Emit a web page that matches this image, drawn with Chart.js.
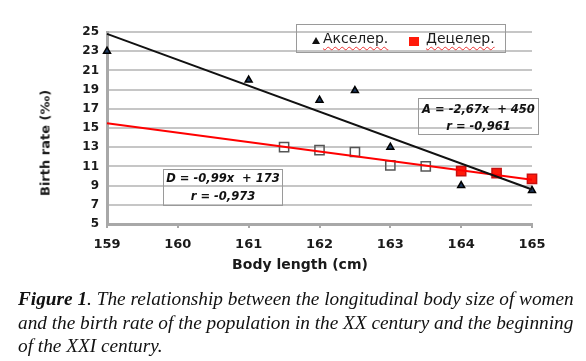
<!DOCTYPE html>
<html>
<head>
<meta charset="utf-8">
<script src="https://cdn.jsdelivr.net/npm/chart.js@4/dist/chart.umd.min.js"></script>
<style>
  body { margin: 0; background: #fff; }
  #wrap { position: relative; width: 586px; height: 361px; overflow: hidden; }
  #chart { position: absolute; left: 0; top: 0; }
  .box { position: absolute; border: 1.5px solid #9a9a9a; box-sizing: border-box; }
  .eq { position: absolute; width: 100%; text-align: center; font: italic bold 11.5px "DejaVu Sans", sans-serif; color: #111; }
  #legend { left: 296px; top: 24px; width: 210px; height: 29px; }
  .leg { position: absolute; top: 5px; font: 14px "DejaVu Sans", sans-serif; color: #1a1a1a;
         text-decoration: underline wavy #e33; text-decoration-thickness: 1px; text-underline-offset: 3px; }
  .tri { position: absolute; left: 15px; top: 12px; width: 0; height: 0;
         border-left: 4px solid transparent; border-right: 4px solid transparent; border-bottom: 7px solid #111; }
  .sq { position: absolute; left: 112px; top: 12px; width: 10px; height: 9px; background: #ff1a0a; }
  #xtitle { position: absolute; left: 0; width: 600px; top: 256px; text-align: center; font: bold 14px "DejaVu Sans", sans-serif; color: #1a1a1a; }
  #ytitle { position: absolute; left: 45px; top: 143px; transform: translate(-50%, -50%) rotate(-90deg); white-space: nowrap; font: bold 13px "DejaVu Sans", sans-serif; color: #1a1a1a; }
  #caption { position: absolute; left: 18px; top: 287px; width: 580px; font: italic 19.3px "Liberation Serif", serif; line-height: 23.5px; color: #111; white-space: nowrap; }
</style>
</head>
<body>
<div id="wrap">
  <canvas id="chart" width="586" height="280"></canvas>
  <div id="ytitle">Birth rate (‰)</div>
  <div id="xtitle">Body length (cm)</div>
  <div class="box" id="legend">
    <div class="tri"></div><span class="leg" style="left:26px">Акселер.</span>
    <div class="sq"></div><span class="leg" style="left:129px">Децелер.</span>
  </div>
  <div class="box" style="left:418px; top:98px; width:121px; height:37px;">
    <div class="eq" style="top:3px">A = -2,67x&nbsp; + 450</div>
    <div class="eq" style="top:20px">r = -0,961</div>
  </div>
  <div class="box" style="left:163px; top:169px; width:120px; height:37px;">
    <div class="eq" style="top:1px">D = -0,99x&nbsp; + 173</div>
    <div class="eq" style="top:19px">r = -0,973</div>
  </div>
  <div id="caption"><b>Figure 1</b>. The relationship between the longitudinal body size of women<br>and the birth rate of the population in the XX century and the beginning<br>of the XXI century.</div>
</div>
<script>
// body length (cm) and birth rate (‰)
const xAkseler = [159, 161, 162, 162.5, 163, 164, 165];
const yAkseler = [23, 20, 17.9, 18.9, 13, 9, 8.5];
const xDeceler = [161.5, 162, 162.5, 163, 163.5, 164, 164.5, 165];
const yDeceler = [13, 12.7, 12.5, 11.1, 11.0, 10.5, 10.3, 9.7];

// trend lines, read at both ends of the x range
const trendX = [159, 165];
const trendA = [24.8, 8.6];
const trendD = [15.5, 9.6];

const toPoints = (xs, ys) => xs.map((x, i) => ({ x: x, y: ys[i] }));

const red = "#ff1a0a";

new Chart(document.getElementById("chart").getContext("2d"), {
  type: "scatter",
  data: {
    datasets: [
      {
        label: "trendA",
        type: "line",
        data: toPoints(trendX, trendA),
        borderColor: "#111",
        borderWidth: 2,
        pointRadius: 0,
        clip: false,
      },
      {
        label: "trendD",
        type: "line",
        data: toPoints(trendX, trendD),
        borderColor: "#ff0000",
        borderWidth: 2,
        pointRadius: 0,
        clip: false,
      },
      {
        label: "Децелер.",
        data: toPoints(xDeceler, yDeceler),
        pointStyle: "rect",
        pointRadius: 6.5,
        backgroundColor: (ctx) => (ctx.raw && ctx.raw.x >= 164 ? red : "rgba(0,0,0,0)"),
        borderColor: (ctx) => (ctx.raw && ctx.raw.x >= 164 ? "#c81010" : "#555"),
        borderWidth: 1.5,
        clip: false,
      },
      {
        label: "Акселер.",
        data: toPoints(xAkseler, yAkseler),
        pointStyle: "triangle",
        pointRadius: 4,
        backgroundColor: "#1f3a5f",
        borderColor: "#000",
        borderWidth: 1.5,
        clip: false,
      },
    ],
  },
  options: {
    responsive: false,
    devicePixelRatio: 1,
    animation: false,
    layout: { padding: { left: 0, right: 54, top: 32, bottom: 0 } },
    plugins: {
      legend: { display: false },
      tooltip: { enabled: false },
    },
    scales: {
      x: {
        type: "linear",
        min: 159,
        max: 165,
        afterFit: (scale) => { scale.height = 56; },
        ticks: {
          stepSize: 1,
          padding: 9,
          color: "#1a1a1a",
          font: { family: "DejaVu Sans", size: 13, weight: "bold" },
        },
        grid: {
          drawOnChartArea: false,
          drawTicks: true,
          tickLength: 4,
          color: "#a8a8a8",
          lineWidth: 2,
        },
        border: { color: "#a8a8a8", width: 3 },
      },
      y: {
        min: 5,
        max: 25,
        afterFit: (scale) => { scale.width = 107; },
        ticks: {
          stepSize: 2,
          padding: 8,
          color: "#1a1a1a",
          font: { family: "DejaVu Sans", size: 12, weight: "bold" },
        },
        grid: {
          drawTicks: false,
          color: "#c6c6c6",
          lineWidth: 2,
        },
        border: { color: "#a8a8a8", width: 3 },
      },
    },
  },
});
</script>
</body>
</html>
